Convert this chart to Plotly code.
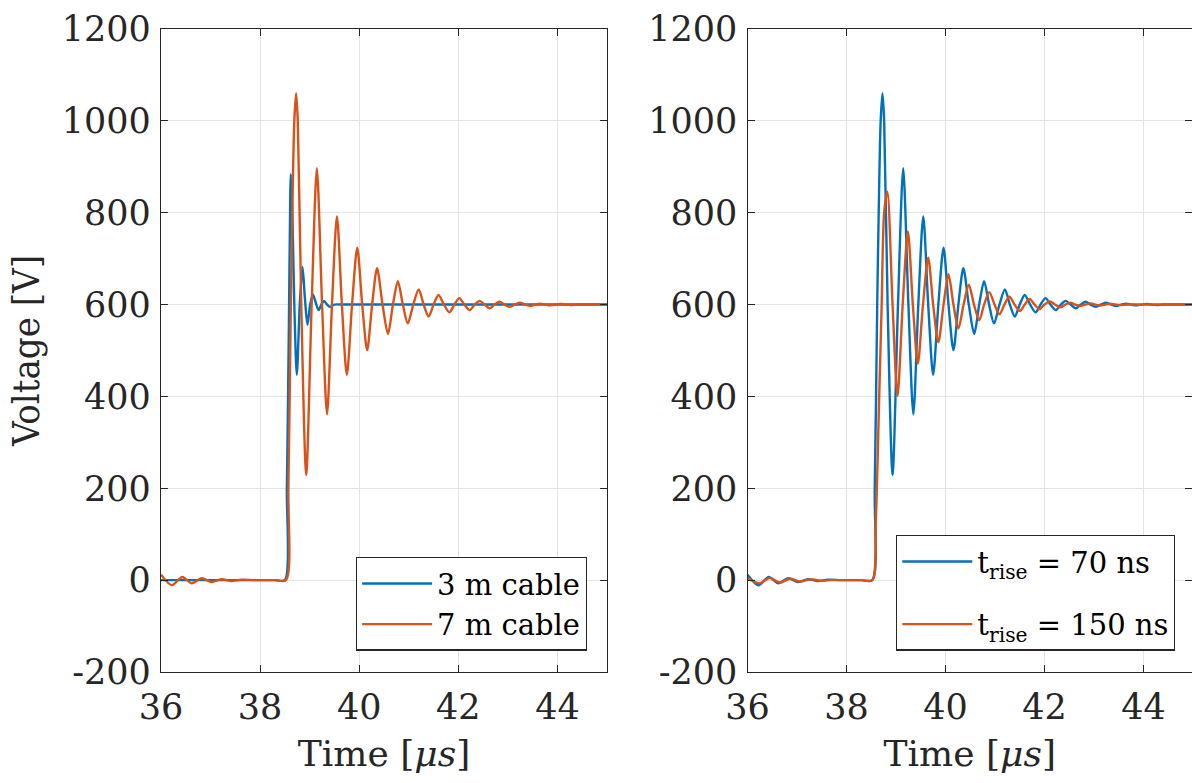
import plotly.graph_objects as go

# ---- data ----
# Left panel, 3 m cable (70 ns)
t_3m = [36.0, 38.3, 38.5, 38.54, 38.58, 38.61, 38.62, 38.65, 38.69, 38.74, 38.80, 38.855,
        38.90, 38.955, 39.01, 39.064, 39.12, 39.18, 39.235, 39.29, 39.35, 39.41, 39.5, 39.7, 45.0]
v_3m = [0, 0, 0, 200, 550, 850, 884, 800, 600, 447, 600, 682,
        620, 556, 600, 622, 605, 588, 600, 608, 600, 595, 600, 600, 600]

# 7 m cable, 70 ns rise time (same trace in both panels)
t_7m = [36.0, 36.22, 36.43, 36.62, 36.82, 37.02, 37.22, 37.42, 37.62, 37.9, 38.3, 38.52,
        38.57, 38.62, 38.65, 38.69, 38.727, 38.76, 38.83, 38.93, 39.04, 39.145, 39.25, 39.35,
        39.45, 39.55, 39.65, 39.75, 39.855, 39.96, 40.06, 40.16, 40.26, 40.36, 40.47, 40.58,
        40.68, 40.78, 40.88, 40.98, 41.09, 41.20, 41.30, 41.40, 41.50, 41.60, 41.71, 41.82,
        41.92, 42.02, 42.12, 42.23, 42.33, 42.43, 42.53, 42.63, 42.73, 42.83, 42.93, 43.03,
        43.14, 43.24, 43.35, 43.45, 43.55, 43.65, 43.75, 43.86, 43.96, 44.06, 44.16, 44.27,
        44.4, 45.0]
v_7m = [12, -11, 7, -7, 4, -4, 2, -2, 1, 0, 0, 0,
        200, 600, 800, 1000, 1060, 1000, 600, 229, 600, 897, 600, 361,
        600, 792, 600, 447, 600, 724, 600, 501, 600, 679, 600, 536,
        600, 651, 600, 559, 600, 633, 600, 574, 600, 621, 600, 583,
        600, 614, 600, 588, 600, 608, 600, 592, 600, 606, 600, 595,
        600, 604, 600, 597, 600, 602, 600, 598.5, 600, 601.5, 600, 599,
        600, 600]

# Right panel, 150 ns rise time
t_150 = [36.0, 36.24, 36.45, 36.65, 36.86, 37.06, 37.27, 37.47, 37.7, 38.3, 38.52, 38.59,
         38.66, 38.71, 38.76, 38.825, 38.93, 39.03, 39.135, 39.24, 39.34, 39.44, 39.545, 39.65,
         39.75, 39.855, 39.96, 40.06, 40.16, 40.26, 40.365, 40.47, 40.575, 40.68, 40.78, 40.885,
         40.99, 41.09, 41.19, 41.29, 41.395, 41.5, 41.6, 41.70, 41.80, 41.90, 42.0, 42.11,
         42.21, 42.32, 42.42, 42.52, 42.62, 42.72, 42.82, 42.93, 43.03, 43.13, 43.23, 43.34,
         43.44, 43.54, 43.7, 45.0]
v_150 = [5, -7, 5, -5, 3, -3, 2, -1, 0, 0, 0, 124,
         400, 600, 800, 846, 600, 401, 600, 759, 600, 471, 600, 702,
         600, 518, 600, 666, 600, 548, 600, 643, 600, 566, 600, 627,
         600, 579, 600, 617, 600, 586, 600, 612, 600, 590, 600, 607,
         600, 594, 600, 604, 600, 597, 600, 602.5, 600, 598, 600, 601.5,
         600, 599, 600, 600]

x_ticks = [36, 38, 40, 42, 44]
y_ticks = [-200, 0, 200, 400, 600, 800, 1000, 1200]
y_ticktext = ["-200", "0", "200", "400", "600", "800", "1000", "1200"]

BLUE = "#0072BD"
ORANGE = "#D95319"
FONT = "DejaVu Serif, serif"
AX = "#262626"
LW = 2.4

fig = go.Figure()
fig.add_trace(go.Scatter(x=t_3m, y=v_3m, mode="lines", name="3 m cable",
                         line=dict(color=BLUE, width=LW, shape="spline", smoothing=0.8),
                         xaxis="x", yaxis="y", legend="legend"))
fig.add_trace(go.Scatter(x=t_7m, y=v_7m, mode="lines", name="7 m cable",
                         line=dict(color=ORANGE, width=LW, shape="spline", smoothing=0.8),
                         xaxis="x", yaxis="y", legend="legend"))
fig.add_trace(go.Scatter(x=t_7m, y=v_7m, mode="lines", name="t<sub>rise</sub> = 70 ns",
                         line=dict(color=BLUE, width=LW, shape="spline", smoothing=0.8),
                         xaxis="x2", yaxis="y2", legend="legend2", legendgroup="a"))
fig.add_trace(go.Scatter(x=t_150, y=v_150, mode="lines", name="t<sub>rise</sub> = 150 ns",
                         line=dict(color=ORANGE, width=LW, shape="spline", smoothing=0.8),
                         xaxis="x2", yaxis="y2", legend="legend2", legendgroup="b"))

common_x = dict(tickvals=x_ticks, ticks="inside", ticklen=7, tickcolor=AX,
                showline=True, linecolor=AX, linewidth=1.3, mirror="ticks",
                showgrid=True, gridcolor="#e3e3e3", gridwidth=1, zeroline=False,
                tickfont=dict(family=FONT, size=35, color=AX), ticklabelstandoff=4)
common_y = dict(range=[-200, 1200], tickvals=y_ticks, ticktext=y_ticktext, ticks="inside",
                ticklen=7, tickcolor=AX, showline=True, linecolor=AX, linewidth=1.3,
                mirror="ticks", showgrid=True, gridcolor="#e3e3e3", gridwidth=1,
                zeroline=False, tickfont=dict(family=FONT, size=35, color=AX),
                ticklabelstandoff=2)

xt = dict(text="Time [<i>μs</i>]", font=dict(family=FONT, size=36, color=AX), standoff=14)

fig.update_layout(
    width=1192, height=783,
    margin=dict(l=161, r=0, t=29, b=111),
    paper_bgcolor="white", plot_bgcolor="white",
    xaxis=dict(domain=[0, 0.4326], anchor="y", title=xt, range=[36, 45], **common_x),
    yaxis=dict(domain=[0, 1], anchor="x",
               title=dict(text="Voltage [V]", standoff=10,
                          font=dict(family="DejaVu Serif Condensed, DejaVu Serif, serif",
                                    size=38, color=AX)),
               **common_y),
    xaxis2=dict(domain=[0.5689, 1.0], anchor="y2", title=xt, range=[36, 44.98], **common_x),
    yaxis2=dict(domain=[0, 1], anchor="x2", **common_y),
    legend=dict(x=0.413, y=0.033, xanchor="right", yanchor="bottom",
                bgcolor="white", bordercolor=AX, borderwidth=1.3,
                font=dict(family=FONT, size=29, color="black"), itemwidth=70,
                tracegroupgap=0),
    legend2=dict(x=0.9835, y=0.033, xanchor="right", yanchor="bottom",
                 bgcolor="white", bordercolor=AX, borderwidth=1.3,
                 font=dict(family=FONT, size=29, color="black"), itemwidth=70,
                 traceorder="grouped", tracegroupgap=22),
    showlegend=True,
)

fig.write_html("out.html", config={"displayModeBar": False},
               post_script="document.body.style.margin='0';document.body.style.overflow='hidden';")
